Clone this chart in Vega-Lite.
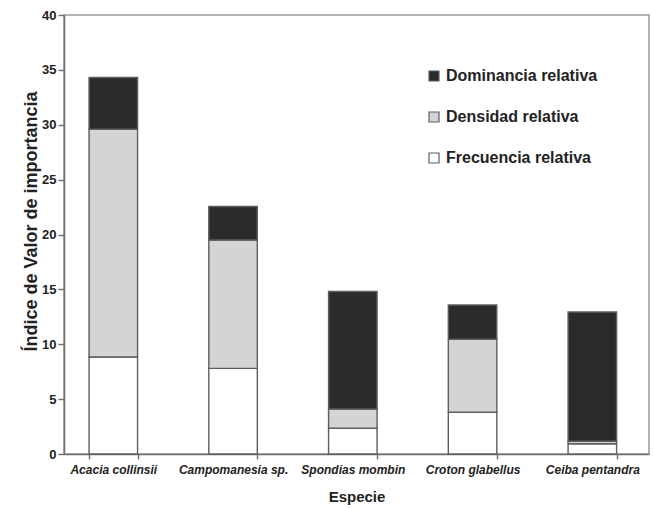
{
  "$schema": "https://vega.github.io/schema/vega-lite/v6.json",
  "autosize": "none",
  "width": 585,
  "height": 439,
  "padding": {"left": 64, "top": 15, "right": 5, "bottom": 54},
  "background": "white",
  "config": {
    "font": "Liberation Sans",
    "view": {"stroke": "#9a9a9a", "strokeWidth": 1.5}
  },
  "data": {
    "values": [
      {"especie": "Acacia collinsii", "componente": "Frecuencia relativa", "orden": 1, "valor": 8.84},
      {"especie": "Acacia collinsii", "componente": "Densidad relativa", "orden": 2, "valor": 20.76},
      {"especie": "Acacia collinsii", "componente": "Dominancia relativa", "orden": 3, "valor": 4.7},
      {"especie": "Campomanesia sp.", "componente": "Frecuencia relativa", "orden": 1, "valor": 7.8},
      {"especie": "Campomanesia sp.", "componente": "Densidad relativa", "orden": 2, "valor": 11.7},
      {"especie": "Campomanesia sp.", "componente": "Dominancia relativa", "orden": 3, "valor": 3.05},
      {"especie": "Spondias mombin", "componente": "Frecuencia relativa", "orden": 1, "valor": 2.34},
      {"especie": "Spondias mombin", "componente": "Densidad relativa", "orden": 2, "valor": 1.76},
      {"especie": "Spondias mombin", "componente": "Dominancia relativa", "orden": 3, "valor": 10.7},
      {"especie": "Croton glabellus", "componente": "Frecuencia relativa", "orden": 1, "valor": 3.8},
      {"especie": "Croton glabellus", "componente": "Densidad relativa", "orden": 2, "valor": 6.65},
      {"especie": "Croton glabellus", "componente": "Dominancia relativa", "orden": 3, "valor": 3.13},
      {"especie": "Ceiba pentandra", "componente": "Frecuencia relativa", "orden": 1, "valor": 0.94},
      {"especie": "Ceiba pentandra", "componente": "Densidad relativa", "orden": 2, "valor": 0.22},
      {"especie": "Ceiba pentandra", "componente": "Dominancia relativa", "orden": 3, "valor": 11.78}
    ]
  },
  "mark": {"type": "bar", "stroke": "#5e5e5e", "strokeWidth": 1.4},
  "encoding": {
    "x": {
      "field": "especie",
      "type": "nominal",
      "sort": null,
      "scale": {"paddingInner": 0.595, "paddingOuter": 0.24, "align": 0.436},
      "axis": {
        "title": "Especie",
        "titleFont": "Liberation Sans",
        "titleFontSize": 15,
        "titleFontWeight": "bold",
        "titleColor": "#222",
        "titlePadding": 14,
        "labelFont": "Liberation Sans",
        "labelFontSize": 12,
        "labelFontWeight": "bold",
        "labelFontStyle": "italic",
        "labelColor": "#222",
        "labelAngle": 0,
        "labelPadding": 5,
        "tickBand": "extent",
        "tickSize": 5,
        "tickColor": "#6e6e6e",
        "tickWidth": 1.4,
        "domainColor": "#6e6e6e",
        "domainWidth": 1.5
      }
    },
    "y": {
      "field": "valor",
      "type": "quantitative",
      "stack": "zero",
      "scale": {"domain": [0, 40], "nice": false},
      "axis": {
        "title": "Índice de Valor de importancia",
        "titleFont": "Liberation Sans",
        "titleFontSize": 18,
        "titleFontWeight": "bold",
        "titleColor": "#222",
        "titleY": 206,
        "titlePadding": 1,
        "values": [0, 5, 10, 15, 20, 25, 30, 35, 40],
        "labelFont": "Liberation Sans",
        "labelFontSize": 13,
        "labelFontWeight": "bold",
        "labelColor": "#222",
        "labelPadding": 2,
        "tickSize": 6,
        "tickColor": "#6e6e6e",
        "tickWidth": 1.4,
        "domainColor": "#6e6e6e",
        "domainWidth": 1.5,
        "grid": false
      }
    },
    "color": {
      "field": "componente",
      "type": "nominal",
      "scale": {
        "domain": ["Dominancia relativa", "Densidad relativa", "Frecuencia relativa"],
        "range": ["#2b2b2b", "#d3d4d6", "#ffffff"]
      },
      "legend": {
        "title": null,
        "orient": "none",
        "legendX": 362,
        "legendY": 53,
        "symbolType": "square",
        "symbolSize": 100,
        "symbolStrokeColor": "#5e5e5e",
        "symbolStrokeWidth": 1.2,
        "labelFont": "Liberation Sans",
        "labelFontSize": 16,
        "labelFontWeight": "bold",
        "labelColor": "#222",
        "labelOffset": 4,
        "rowPadding": 25
      }
    },
    "order": {"field": "orden", "type": "quantitative", "sort": "ascending"}
  }
}
